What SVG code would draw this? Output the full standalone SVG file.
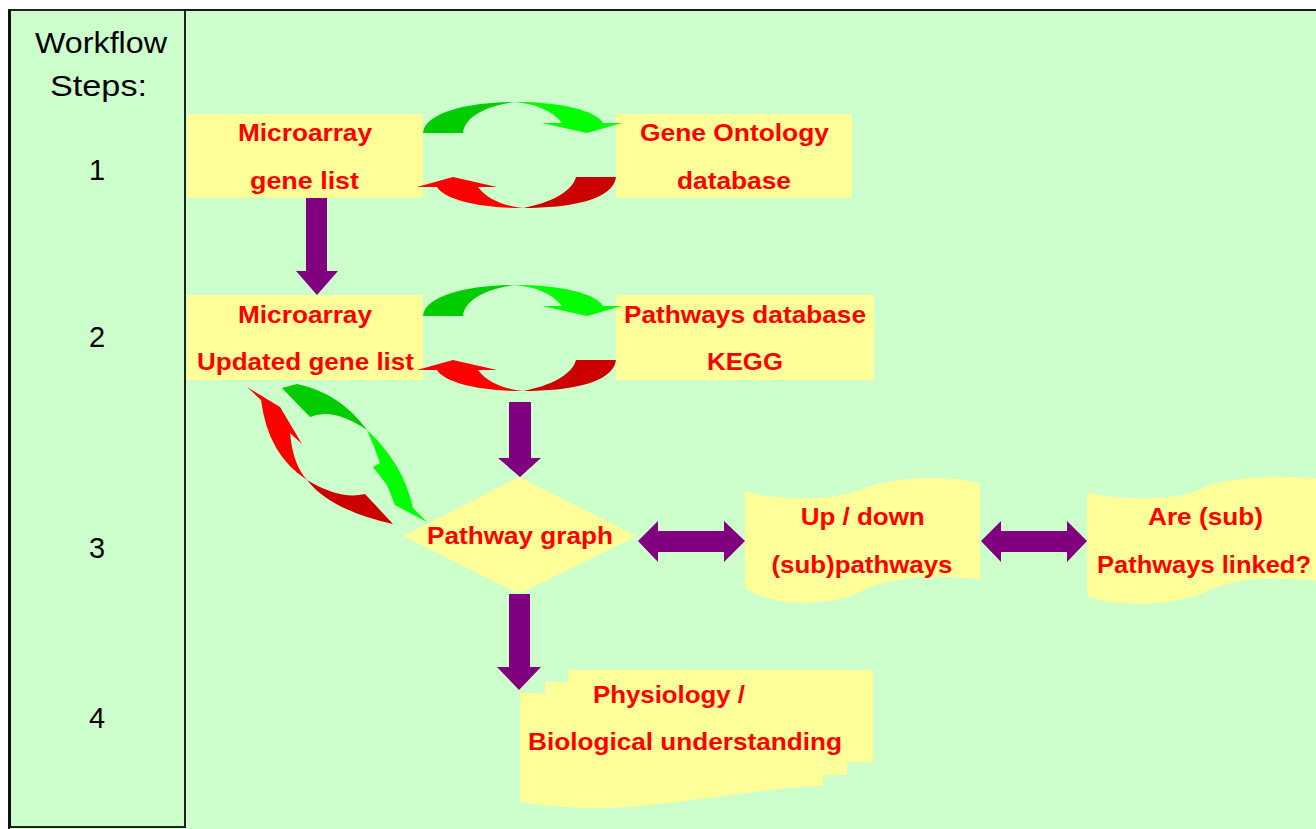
<svg xmlns="http://www.w3.org/2000/svg" width="1316" height="829" viewBox="0 0 1316 829">
<style>
.box{fill:#FFFF99}
.lbl{font-family:"Liberation Sans",Arial,sans-serif;font-weight:bold;font-size:24px;fill:#FF0000;text-anchor:middle}
.step{font-family:"Liberation Sans",Arial,sans-serif;font-size:29px;fill:#000000;text-anchor:middle}
.pur{fill:#800080}
.g1{fill:#00CC00}.g2{fill:#00FF00}.r1{fill:#CC0000}.r2{fill:#FF0000}
</style>
<rect x="0" y="0" width="1316" height="829" fill="#FFFFFF"/>
<rect x="9" y="10" width="1320" height="830" fill="#CCFFCC" stroke="#1a1a1a" stroke-width="2"/>
<g id="steps">
<rect x="9" y="10" width="176" height="817" fill="#CCFFCC" stroke="#222222" stroke-width="2"/>
<line x1="9.5" y1="10" x2="9.5" y2="828" stroke="#111111" stroke-width="3"/>
<text class="step" x="101" y="53" textLength="132" lengthAdjust="spacingAndGlyphs">Workflow</text>
<text class="step" x="98.5" y="96" textLength="97" lengthAdjust="spacingAndGlyphs">Steps:</text>
<text class="step" x="97" y="180">1</text>
<text class="step" x="97" y="347">2</text>
<text class="step" x="97" y="558">3</text>
<text class="step" x="97" y="728">4</text>
</g>
<g id="microarray-gene-list">
<rect class="box" x="187" y="114" width="236" height="84"/>
<text class="lbl" x="305" y="141" textLength="134" lengthAdjust="spacingAndGlyphs">Microarray</text>
<text class="lbl" x="304.5" y="189" textLength="109" lengthAdjust="spacingAndGlyphs">gene list</text>
</g>
<g id="gene-ontology">
<rect class="box" x="616" y="114" width="236" height="84"/>
<text class="lbl" x="734.5" y="141" textLength="189" lengthAdjust="spacingAndGlyphs">Gene Ontology</text>
<text class="lbl" x="734" y="189" textLength="114" lengthAdjust="spacingAndGlyphs">database</text>
</g>
<g id="updated-gene-list">
<rect class="box" x="187" y="295" width="236" height="85"/>
<text class="lbl" x="305" y="323" textLength="134" lengthAdjust="spacingAndGlyphs">Microarray</text>
<text class="lbl" x="305.5" y="370" textLength="217" lengthAdjust="spacingAndGlyphs">Updated gene list</text>
</g>
<g id="kegg">
<rect class="box" x="616" y="295" width="258" height="85"/>
<text class="lbl" x="745" y="323" textLength="242" lengthAdjust="spacingAndGlyphs">Pathways database</text>
<text class="lbl" x="745" y="370" textLength="76" lengthAdjust="spacingAndGlyphs">KEGG</text>
</g>
<g id="pathway-graph">
<polygon class="box" points="403,536 519,477 637,536 519,594"/>
<text class="lbl" x="520" y="544" textLength="186" lengthAdjust="spacingAndGlyphs">Pathway graph</text>
</g>
<g id="up-down">
<path class="box" d="M745,491 C770,500 830,502 860,490 C885,478 945,474 980,483 L980,580 C945,574 890,576 862,591 C835,606 775,608 745,588 Z"/>
<text class="lbl" x="862.7" y="525" textLength="124" lengthAdjust="spacingAndGlyphs">Up / down</text>
<text class="lbl" x="862" y="573" textLength="181" lengthAdjust="spacingAndGlyphs">(sub)pathways</text>
</g>
<g id="linked">
<path class="box" d="M1087,492 C1115,500 1175,502 1200,489 C1225,476 1290,474 1330,480 L1330,582 C1290,578 1240,575 1210,590 C1180,606 1120,608 1087,596 Z"/>
<text class="lbl" x="1205.5" y="525" textLength="115" lengthAdjust="spacingAndGlyphs">Are (sub)</text>
<text class="lbl" x="1204" y="573" textLength="214" lengthAdjust="spacingAndGlyphs">Pathways linked?</text>
</g>
<g id="physiology">
<path class="box" d="M568,670 L873,670 L873,762 L847,762 L847,775 L823,775 L823,786 C770,786 680,806 600,808 C570,808 540,805 520,802 L520,693 L545,693 L545,682 L568,682 Z"/>
<text class="lbl" x="669" y="703" textLength="152" lengthAdjust="spacingAndGlyphs">Physiology /</text>
<text class="lbl" x="685" y="750" textLength="314" lengthAdjust="spacingAndGlyphs">Biological understanding</text>
</g>
<g id="connectors">
<polygon class="pur" points="306,198 327,198 327,271 338,271 317,295 296,271 306,271"/>
<polygon class="pur" points="509,402 531,402 531,458 541,458 520,477 498,458 509,458"/>
<polygon class="pur" points="509,594 530,594 530,667 541,667 519,690 497,667 509,667"/>
<polygon class="pur" points="638,541 658,521 658,531 724,531 724,521 745,541 724,562 724,552 658,552 658,562"/>
<polygon class="pur" points="981,541 1001,521 1001,531 1067,531 1067,521 1087,541 1067,562 1067,552 1001,552 1001,562"/>
<g id="cycle1">
<path class="g1" d="M423,133 C425,112 470,102 515,102 C490,105 465,115 463,133 Z"/>
<path class="g2" d="M515,102 C560,102 595,110 603,123 L622,123 L587,133 L542,123 L562,123 C552,110 535,104 515,102 Z"/>
<path class="r1" d="M616,177 C613,200 570,208 523,208 C550,203 572,192 576,177 Z"/>
<path class="r2" d="M523,208 C480,208 445,200 437,187 L417,187 L453,177 L497,187 L478,187 C488,200 505,206 523,208 Z"/>
</g>
<g id="cycle2" transform="translate(0,183)">
<path class="g1" d="M423,133 C425,112 470,102 515,102 C490,105 465,115 463,133 Z"/>
<path class="g2" d="M515,102 C560,102 595,110 603,123 L622,123 L587,133 L542,123 L562,123 C552,110 535,104 515,102 Z"/>
<path class="r1" d="M616,177 C613,200 570,208 523,208 C550,203 572,192 576,177 Z"/>
<path class="r2" d="M523,208 C480,208 445,200 437,187 L417,187 L453,177 L497,187 L478,187 C488,200 505,206 523,208 Z"/>
</g>
<g id="cycle3">
<path class="g1" d="M282,388 L297,384 Q340,393 367,430 Q333,407 310,417 Z"/>
<path class="g2" d="M367,430 Q403,463 413,508 L427,522 L395,505 L387,485 L373,467 L380,463 Q373,443 367,430 Z"/>
<path class="r2" d="M247,387 L280,407 L302,444 L290,433 Q293,465 307,480 Q268,455 261,400 Z"/>
<path class="r1" d="M307,480 Q330,510 393,524 L365,494 Q340,500 307,480 Z"/>
</g>
</g>
</svg>
